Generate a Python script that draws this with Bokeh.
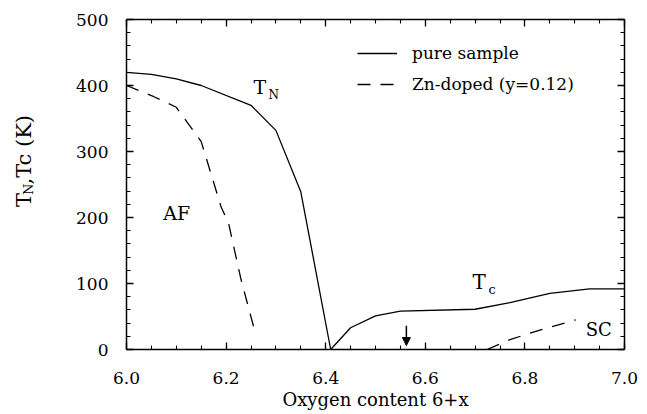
from math import pi
from bokeh.plotting import figure
from bokeh.layouts import row
from bokeh.models import (Range1d, LinearAxis, FixedTicker, NumeralTickFormatter, Label,
                          Arrow, NormalHead, Legend, LegendItem)
from bokeh.core.properties import value
from bokeh.embed import file_html
from bokeh.resources import INLINE

# ---- data ----
pure_x = [6.0, 6.05, 6.10, 6.15, 6.25, 6.30, 6.35, 6.41, 6.45, 6.50, 6.55, 6.70, 6.77, 6.85, 6.93, 7.0]
pure_y = [420, 417, 410, 400, 370, 332, 239, 0, 33, 51, 58, 61, 71, 85, 92, 92]

zn_af_x = [6.0, 6.055, 6.10, 6.15, 6.19, 6.205, 6.23, 6.26]
zn_af_y = [400, 383, 367, 315, 216, 191, 106, 21]

zn_sc_x = [6.724, 6.77, 6.82, 6.902]
zn_sc_y = [0, 15, 27, 45]

arrow_x = 6.562
arrow_y = [36, 6]

x_ticks = [6.0, 6.2, 6.4, 6.6, 6.8, 7.0]
y_ticks = [0, 100, 200, 300, 400, 500]
x_minor = [round(6.0 + 0.05 * i, 2) for i in range(21)]
y_minor = [20 * i for i in range(26)]

FONT = "DejaVu Serif"
H = 412
LW = 50   # width of the strip holding the rotated y-axis title

# ---- strip with the rotated y-axis title (T_N,Tc (K)) ----
lf = figure(width=LW, height=H, x_range=Range1d(0, LW), y_range=Range1d(0, H),
            output_backend="svg", toolbar_location=None,
            x_axis_type=None, y_axis_type=None, min_border=0)
lf.outline_line_color = None
ytitle_x = [23, 28, 23]
ytitle_y = [178, 193, 206]
ytitle_t = ["T", "N", ",Tc  (K)"]
ytitle_s = ["21px", "13px", "21px"]
for xx, yy, tt, ss in zip(ytitle_x, ytitle_y, ytitle_t, ytitle_s):
    lf.text(x=[xx], y=[yy], text=[tt], angle=pi / 2, text_font=value(FONT),
            text_font_size=ss, text_color="black", text_baseline="alphabetic",
            text_align="left")

# ---- main plot ----
p = figure(width=640 - LW, height=H, x_range=Range1d(6.0, 7.0), y_range=Range1d(0, 500),
           output_backend="svg", toolbar_location=None,
           x_axis_type=None, y_axis_type=None,
           min_border_left=126 - LW, min_border_right=16, min_border_top=19,
           min_border_bottom=H - 350)
p.outline_line_color = None
p.background_fill_color = "white"


def make_axis(ticks, minor, fmt, show_labels):
    ax = LinearAxis(ticker=FixedTicker(ticks=ticks, minor_ticks=minor),
                    formatter=NumeralTickFormatter(format=fmt))
    ax.axis_line_color = "black"
    ax.axis_line_width = 1.5
    ax.major_tick_in = 7
    ax.major_tick_out = 0
    ax.minor_tick_in = 4
    ax.minor_tick_out = 0
    ax.major_tick_line_width = 1.3
    ax.minor_tick_line_width = 1.1
    ax.major_tick_line_color = "black"
    ax.minor_tick_line_color = "black"
    if show_labels:
        ax.major_label_text_font = FONT
        ax.major_label_text_font_size = "17px"
        ax.major_label_text_color = "black"
    else:
        ax.major_label_text_font_size = "1px"
        ax.major_label_text_color = None
        ax.major_label_standoff = 0
    return ax


xb = make_axis(x_ticks, x_minor, "0.0", True)
xb.major_label_standoff = 22
xb.axis_label = "Oxygen content 6+x"
xb.axis_label_text_font = FONT
xb.axis_label_text_font_size = "18px"
xb.axis_label_text_font_style = "normal"
xb.axis_label_text_color = "black"
xb.axis_label_standoff = 2
p.add_layout(xb, "below")

xa = make_axis(x_ticks, x_minor, "0.0", False)
p.add_layout(xa, "above")

yl = make_axis(y_ticks, y_minor, "0", True)
yl.major_label_standoff = 18
p.add_layout(yl, "left")

yr = make_axis(y_ticks, y_minor, "0", False)
p.add_layout(yr, "right")

# ---- curves ----
r_pure = p.line(pure_x, pure_y, line_color="black", line_width=1.3)
r_zn = p.line(zn_af_x, zn_af_y, line_color="black", line_width=1.3, line_dash="13 10")
p.line(zn_sc_x, zn_sc_y, line_color="black", line_width=1.3, line_dash="13 10")

p.add_layout(Arrow(end=NormalHead(size=8, fill_color="black", line_color="black"),
                   x_start=arrow_x, y_start=arrow_y[0], x_end=arrow_x, y_end=arrow_y[1],
                   line_color="black", line_width=1.5))

# ---- in-plot labels ----
def lab(x, y, text, size):
    p.add_layout(Label(x=x, y=y, text=text, text_font=FONT, text_font_size=size,
                       text_color="black", text_baseline="alphabetic", text_align="left"))

lab(6.255, 397, "T", "19px")
lab(6.285, 385, "N", "12px")
lab(6.074, 207, "AF", "19px")
lab(6.695, 103, "T", "20px")
lab(6.727, 91, "c", "13px")
lab(6.922, 30, "SC", "18px")

# ---- legend ----
legend = Legend(items=[LegendItem(label="pure sample", renderers=[r_pure]),
                       LegendItem(label="Zn-doped (y=0.12)", renderers=[r_zn])],
                location=(231, 255), glyph_width=40, glyph_height=20, label_height=20,
                spacing=11, padding=0, margin=0, label_standoff=15,
                border_line_color=None, background_fill_alpha=0,
                label_text_font=FONT, label_text_font_size="17px", label_text_color="black")
p.add_layout(legend)

layout = row(lf, p)
open("out.html", "w").write(file_html(layout, INLINE))
